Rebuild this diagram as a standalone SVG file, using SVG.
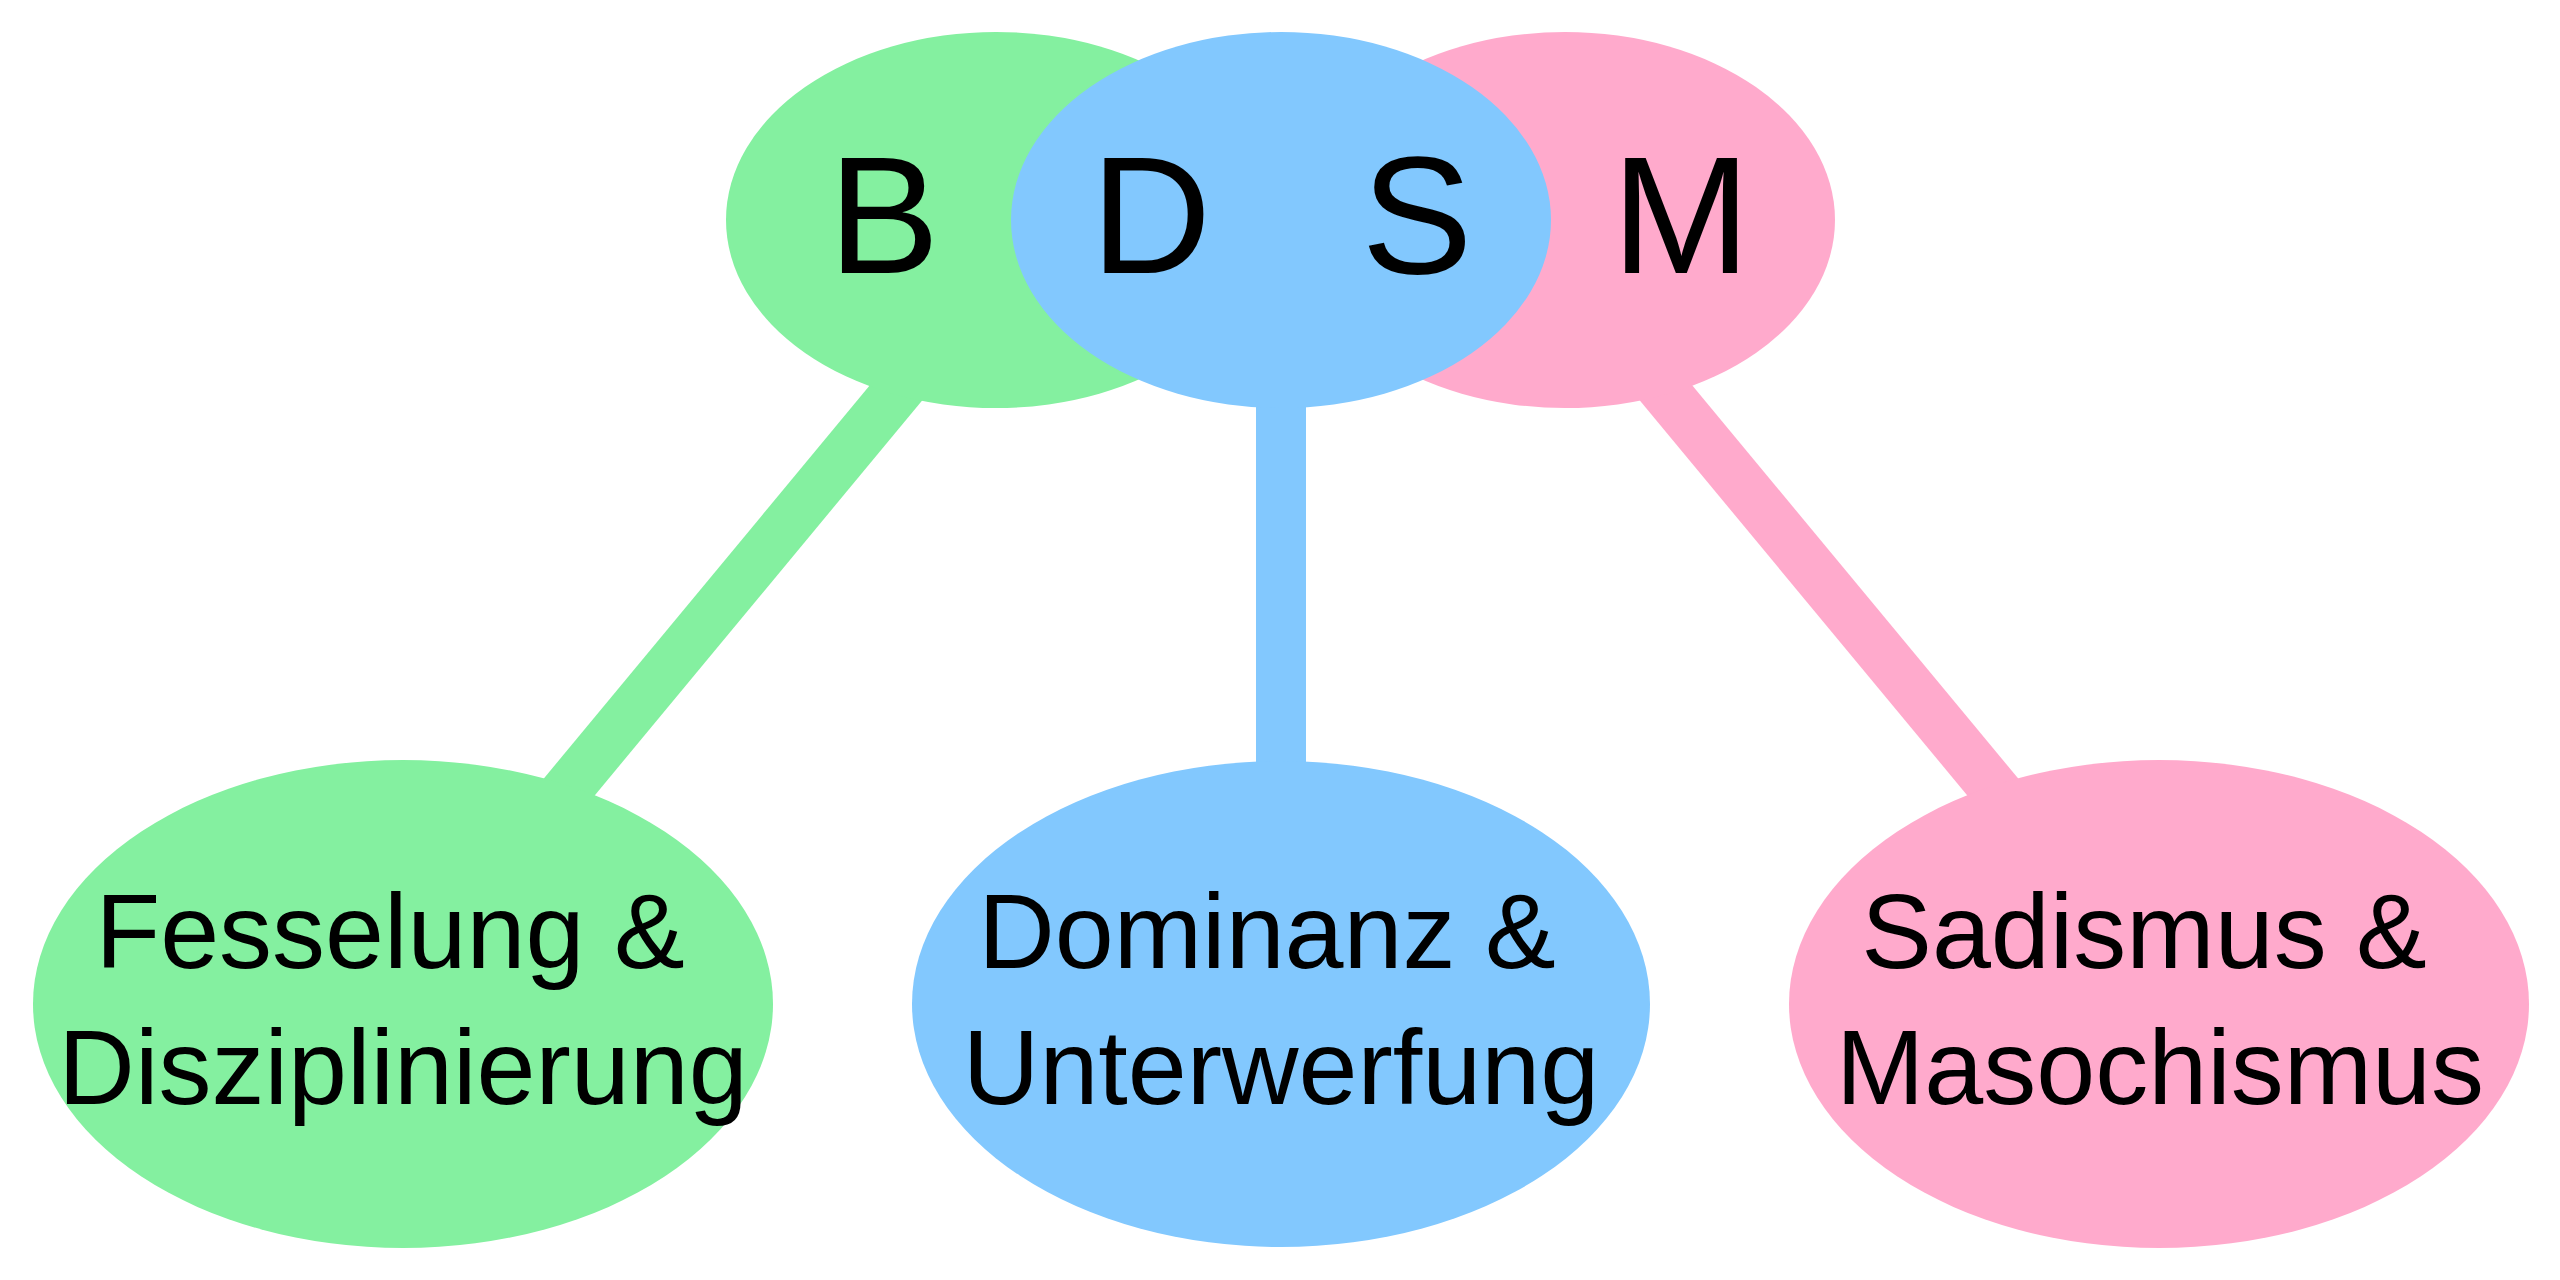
<svg xmlns="http://www.w3.org/2000/svg" width="2560" height="1280" viewBox="0 0 2560 1280">
<style>
.g{fill:#84F0A0}.b{fill:#82C8FE}.p{fill:#FFAACC}
.lg{stroke:#84F0A0}.lb{stroke:#82C8FE}.lp{stroke:#FFAACC}
line{stroke-width:50;fill:none}
text{font-family:"Liberation Sans",Arial,sans-serif;fill:#000}
.big{font-size:167px;text-anchor:middle}
.lbl{font-size:106px;text-anchor:middle}
</style>
<rect width="2560" height="1280" fill="#fff"/>
<g id="connectors">
<line class="lg" x1="973" y1="300" x2="517" y2="850"/>
<line class="lb" x1="1281" y1="300" x2="1281" y2="850"/>
<line class="lp" x1="1589" y1="300" x2="2045" y2="850"/>
</g>
<g id="node-B"><ellipse class="g" cx="996" cy="220" rx="270" ry="188"/><text class="big" x="884" y="273">B</text></g>
<g id="node-M"><ellipse class="p" cx="1565" cy="220" rx="270" ry="188"/><text class="big" x="1681" y="273">M</text></g>
<g id="node-DS"><ellipse class="b" cx="1281" cy="220" rx="270" ry="188"/><text class="big" x="1151" y="273">D</text><text class="big" x="1417" y="273">S</text></g>
<g id="node-fessel"><ellipse class="g" cx="403" cy="1004" rx="370" ry="244"/><text class="lbl" x="390" y="968">Fesselung &amp;</text><text class="lbl" x="403" y="1104">Disziplinierung</text></g>
<g id="node-dominanz"><ellipse class="b" cx="1281" cy="1004" rx="369" ry="243"/><text class="lbl" x="1267" y="968">Dominanz &amp;</text><text class="lbl" x="1281" y="1104">Unterwerfung</text></g>
<g id="node-sadismus"><ellipse class="p" cx="2159" cy="1004" rx="370" ry="244"/><text class="lbl" x="2144" y="968">Sadismus &amp;</text><text class="lbl" x="2160" y="1104">Masochismus</text></g>
</svg>
